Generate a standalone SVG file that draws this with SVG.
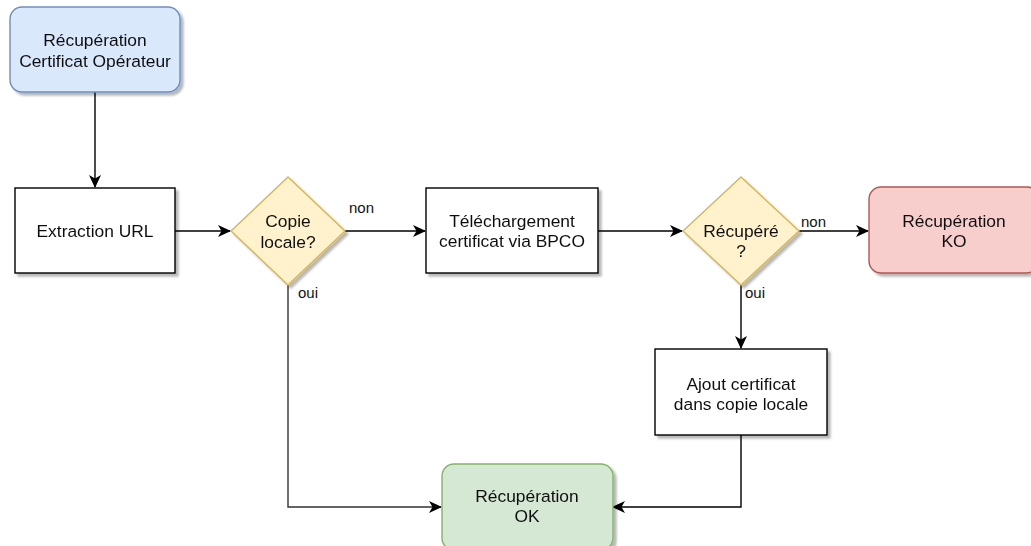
<svg xmlns="http://www.w3.org/2000/svg" width="1031" height="546" viewBox="0 0 1031 546">
  <defs>
    <filter id="shadow" x="-10%" y="-10%" width="130%" height="140%">
      <feDropShadow dx="3" dy="3" stdDeviation="1.2" flood-color="#000" flood-opacity="0.28"/>
    </filter>
    <marker id="arrow" markerUnits="userSpaceOnUse" markerWidth="14" markerHeight="14" refX="12" refY="6" orient="auto">
      <path d="M0,0 L13,6 L0,12 L3.5,6 Z" fill="#000"/>
    </marker>
  </defs>
  <style>
    text { font-family: "Liberation Sans", Arial, sans-serif; fill: #111; text-anchor: middle; }
    .t { font-size: 17.4px; }
    .lbl { font-size: 15px; text-anchor: start; }
    .box { fill: #ffffff; stroke: #000; stroke-width: 1.4; }
    .blue { fill: #dae8fc; stroke: #6c8ebf; stroke-width: 1.4; }
    .yellow { fill: #fff2cc; stroke: #d6b656; stroke-width: 1.4; }
    .red { fill: #f8cecc; stroke: #b85450; stroke-width: 1.4; }
    .green { fill: #d5e8d4; stroke: #82b366; stroke-width: 1.4; }
    .edge { fill: none; stroke: #000; stroke-width: 1.4; marker-end: url(#arrow); }
  </style>

  <!-- connectors -->
  <g id="connectors">
    <path class="edge" d="M95,92 L95,187"/>
    <path class="edge" d="M175,231 L230,231"/>
    <path class="edge" d="M345,231 L425,231"/>
    <path class="edge" d="M598,231 L682,231"/>
    <path class="edge" d="M799,231 L868,231"/>
    <path class="edge" d="M741,285 L741,348"/>
    <path class="edge" d="M741,435 L741,507 L613,507"/>
    <path class="edge" d="M288,285 L288,507 L441,507" style="stroke:#333"/>
    <text class="lbl" x="349" y="213">non</text>
    <text class="lbl" x="298" y="298">oui</text>
    <text class="lbl" x="801" y="227">non</text>
    <text class="lbl" x="745" y="298">oui</text>
  </g>

  <g id="start" filter="url(#shadow)">
    <rect class="blue" x="10" y="7" width="170" height="85" rx="12" ry="12"/>
    <text class="t" x="95" y="46">Récupération</text>
    <text class="t" x="95" y="67">Certificat Opérateur</text>
  </g>

  <g id="extraction" filter="url(#shadow)">
    <rect class="box" x="15" y="188" width="160" height="85"/>
    <text class="t" x="95" y="237">Extraction URL</text>
  </g>

  <g id="copie-locale" filter="url(#shadow)">
    <polygon class="yellow" points="288,177 345,231 288,285 231,231"/>
    <text class="t" x="288" y="227">Copie</text>
    <text class="t" x="288" y="248">locale?</text>
  </g>

  <g id="telechargement" filter="url(#shadow)">
    <rect class="box" x="426" y="188" width="172" height="85"/>
    <text class="t" x="512" y="227">Téléchargement</text>
    <text class="t" x="512" y="247">certificat via BPCO</text>
  </g>

  <g id="recupere" filter="url(#shadow)">
    <polygon class="yellow" points="741,177 799,231 741,285 683,231"/>
    <text class="t" x="741" y="237">Récupéré</text>
    <text class="t" x="741" y="257">?</text>
  </g>

  <g id="recuperation-ko" filter="url(#shadow)">
    <rect class="red" x="869" y="187" width="170" height="86" rx="12" ry="12"/>
    <text class="t" x="954" y="227">Récupération</text>
    <text class="t" x="954" y="247">KO</text>
  </g>

  <g id="ajout" filter="url(#shadow)">
    <rect class="box" x="655" y="349" width="172" height="86"/>
    <text class="t" x="741" y="390">Ajout certificat</text>
    <text class="t" x="741" y="410">dans copie locale</text>
  </g>

  <g id="recuperation-ok" filter="url(#shadow)">
    <rect class="green" x="442" y="464" width="171" height="86" rx="12" ry="12"/>
    <text class="t" x="527" y="502">Récupération</text>
    <text class="t" x="527" y="522">OK</text>
  </g>
</svg>
